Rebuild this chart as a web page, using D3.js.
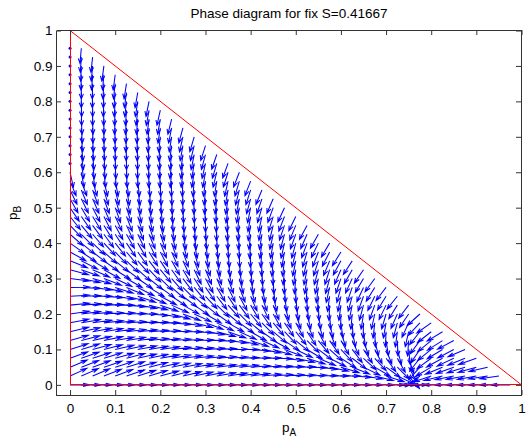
<!DOCTYPE html>
<html>
<head>
<meta charset="utf-8">
<script src="https://cdn.jsdelivr.net/npm/d3@7"></script>
<style>
  body { margin: 0; background: #fff; }
  text { font-family: "Liberation Sans", Arial, Helvetica, sans-serif; }
</style>
</head>
<body>
<svg id="chart" width="526" height="443"></svg>
<script>
// grid of the phase plane, step 0.025
var pAValues = [0,0.025,0.05,0.075,0.1,0.125,0.15,0.175,0.2,0.225,0.25,0.275,0.3,0.325,0.35,0.375,0.4,0.425,0.45,0.475,
                0.5,0.525,0.55,0.575,0.6,0.625,0.65,0.675,0.7,0.725,0.75,0.775,0.8,0.825,0.85,0.875,0.9,0.925,0.95,0.975];
var pBValues = [0,0.025,0.05,0.075,0.1,0.125,0.15,0.175,0.2,0.225,0.25,0.275,0.3,0.325,0.35,0.375,0.4,0.425,0.45,0.475,
                0.5,0.525,0.55,0.575,0.6,0.625,0.65,0.675,0.7,0.725,0.75,0.775,0.8,0.825,0.85,0.875,0.9,0.925,0.95];

// flow direction (degrees) at each grid point, one row per pB value, entries follow pAValues
// null = zero vector (drawn as a dot)
var flowAngle = [
  [0,0,0,0,0,0,0,0,0,0,0,0,0,0,0,0,0,0,0,0,0,0,0,0,0,0,0,0,0,0,0,180,180,180,180,180,180,180,180,180],
  [30,29,28,26,25,23,22,21,19,18,16,15,14,12,11,10,9,7,6,5,4,3,2,1,0,-5,-11,-17,-22,-31,-56,-136,-157,-163,-166,-167,-167,-169,-170],
  [28,26,25,23,22,21,19,18,16,15,13,12,11,9,8,7,5,4,3,2,1,-2,-8,-15,-21,-27,-32,-37,-43,-52,-66,-125,-143,-152,-155,-158,-160,-163],
  [25,24,22,21,19,18,16,15,13,12,10,9,7,6,5,3,2,1,-2,-9,-15,-22,-28,-33,-39,-44,-49,-54,-60,-66,-75,-122,-137,-145,-149,-153,-156],
  [22,21,19,18,16,15,13,12,10,8,7,6,4,3,1,0,-6,-13,-20,-26,-32,-38,-44,-49,-54,-59,-63,-68,-73,-78,-85,-118,-134,-142,-146,-151],
  [20,18,16,15,13,12,10,8,7,5,4,2,1,-3,-9,-16,-23,-29,-35,-41,-46,-52,-57,-61,-66,-70,-75,-79,-83,-88,-93,-120,-134,-141,-146],
  [17,15,13,12,10,8,7,5,4,2,0,-4,-11,-18,-24,-30,-36,-42,-47,-53,-58,-63,-68,-72,-76,-80,-84,-88,-92,-96,-100,-122,-135,-142],
  [14,12,10,8,7,5,3,2,0,-6,-12,-18,-25,-31,-36,-42,-47,-52,-57,-62,-67,-72,-76,-80,-84,-87,-91,-95,-98,-102,-110,-126,-138],
  [10,9,7,5,4,2,0,-6,-12,-19,-25,-30,-36,-42,-47,-52,-57,-61,-66,-70,-75,-79,-83,-87,-91,-94,-97,-100,-103,-109,-118,-131],
  [7,5,4,2,0,-6,-12,-18,-24,-30,-35,-41,-46,-51,-55,-60,-65,-69,-73,-77,-81,-85,-88,-92,-96,-99,-102,-106,-111,-116,-121],
  [4,2,0,-5,-11,-17,-23,-29,-34,-40,-44,-49,-54,-59,-63,-67,-71,-75,-79,-83,-86,-90,-93,-96,-99,-102,-106,-111,-116,-122],
  [1,-4,-10,-17,-22,-28,-33,-38,-43,-48,-52,-57,-61,-65,-69,-73,-77,-80,-84,-87,-90,-93,-96,-100,-102,-105,-110,-116,-121],
  [-9,-15,-20,-26,-31,-36,-41,-46,-51,-55,-59,-63,-67,-71,-74,-78,-81,-85,-88,-91,-94,-97,-99,-102,-105,-110,-115,-120],
  [-19,-24,-29,-35,-39,-44,-49,-53,-57,-61,-65,-69,-72,-76,-79,-82,-85,-88,-91,-94,-97,-99,-102,-104,-109,-114,-118],
  [-27,-33,-37,-42,-46,-51,-55,-59,-63,-66,-70,-73,-76,-80,-83,-86,-88,-91,-94,-96,-99,-101,-104,-108,-113,-117],
  [-35,-40,-44,-49,-53,-57,-61,-64,-68,-71,-74,-77,-80,-83,-86,-89,-91,-94,-96,-98,-101,-103,-107,-112,-116],
  [-42,-46,-50,-54,-58,-62,-65,-69,-72,-75,-78,-81,-83,-86,-89,-91,-93,-96,-98,-100,-102,-106,-111,-115],
  [-48,-52,-56,-60,-63,-66,-69,-72,-75,-78,-81,-84,-86,-89,-91,-93,-95,-97,-100,-102,-106,-109,-114],
  [-53,-57,-60,-64,-67,-70,-73,-76,-78,-81,-84,-86,-88,-91,-93,-95,-97,-99,-101,-105,-108,-113],
  [-58,-61,-64,-68,-70,-73,-76,-79,-81,-84,-86,-88,-90,-92,-94,-96,-98,-100,-104,-107,-111],
  [-62,-65,-68,-71,-74,-76,-79,-81,-83,-86,-88,-90,-92,-94,-96,-98,-99,-103,-106,-110],
  [-66,-69,-71,-74,-76,-79,-81,-83,-86,-88,-90,-91,-93,-95,-97,-99,-102,-105,-109],
  [-69,-72,-74,-77,-79,-81,-83,-85,-87,-89,-91,-93,-94,-96,-98,-101,-104,-108],
  [-72,-74,-77,-79,-81,-83,-85,-87,-89,-91,-92,-94,-96,-97,-100,-103,-107],
  [-80,-82,-83,-85,-87,-88,-90,-91,-92,-94,-95,-97,-98,-101,-104,-107],
  [null,-83,-85,-86,-88,-89,-91,-92,-93,-95,-96,-97,-100,-103,-106],
  [null,-84,-86,-87,-89,-90,-91,-93,-94,-95,-96,-99,-102,-105],
  [null,-85,-87,-88,-90,-91,-92,-93,-95,-96,-98,-101,-104],
  [null,-86,-88,-89,-90,-92,-93,-94,-95,-97,-100,-103],
  [null,-87,-89,-90,-91,-92,-93,-94,-97,-99,-102],
  [null,-88,-89,-90,-92,-93,-94,-96,-98,-101],
  [null,-89,-90,-91,-92,-93,-95,-98,-100],
  [null,-89,-90,-92,-93,-95,-97,-99],
  [null,-90,-91,-92,-94,-96,-98],
  [null,-90,-91,-93,-95,-97],
  [null,-91,-93,-94,-96],
  [null,-92,-94,-96],
  [null,-93,-95],
  [null,-94]
];

// simplex border: pA axis, pB axis, pA + pB = 1
var borderA = [0, 0, 1, 0];
var borderB = [0, 1, 0, 0];

var xTickValues = [0,0.1,0.2,0.3,0.4,0.5,0.6,0.7,0.8,0.9,1];
var xTickLabels = ["0","0.1","0.2","0.3","0.4","0.5","0.6","0.7","0.8","0.9","1"];
var yTickValues = [0,0.1,0.2,0.3,0.4,0.5,0.6,0.7,0.8,0.9,1];
var yTickLabels = ["0","0.1","0.2","0.3","0.4","0.5","0.6","0.7","0.8","0.9","1"];

var titleText = "Phase diagram for fix S=0.41667";

var font = "'Liberation Sans', Arial, Helvetica, sans-serif";
var fontSize = 13.5;

var svg = d3.select("#chart");
svg.append("rect").attr("width", 526).attr("height", 443).attr("fill", "#fff");

var x = d3.scaleLinear().domain([-0.03, 1]).range([56.5, 521.5]);
var y = d3.scaleLinear().domain([-0.03, 1]).range([395.5, 30.5]);

// quiver arrows (unit directions, autoscaled length in data units)
var arrowLen = 0.043;
var headLen = 0.33, headWid = 0.33;

var pts = [];
flowAngle.forEach(function(row, k) {
  row.forEach(function(ang, i) {
    pts.push({pA: pAValues[i], pB: pBValues[k], ang: ang});
  });
});

function arrowPath(d) {
  var t = d.ang * Math.PI / 180;
  var u = arrowLen * Math.cos(t), v = arrowLen * Math.sin(t);
  var tx = d.pA + u, ty = d.pB + v;
  var b1x = tx - headLen * (u + headWid * v), b1y = ty - headLen * (v - headWid * u);
  var b2x = tx - headLen * (u - headWid * v), b2y = ty - headLen * (v + headWid * u);
  return "M" + x(d.pA) + "," + y(d.pB) + "L" + x(tx) + "," + y(ty)
       + "M" + x(b1x) + "," + y(b1y) + "L" + x(tx) + "," + y(ty) + "L" + x(b2x) + "," + y(b2y);
}

svg.append("g")
  .selectAll("path")
  .data(pts.filter(function(d) { return d.ang !== null; }))
  .enter()
  .append("path")
    .attr("d", arrowPath)
    .attr("fill", "none")
    .attr("stroke", "#0000ff")
    .attr("stroke-width", 1.05);

svg.append("g")
  .selectAll("circle")
  .data(pts.filter(function(d) { return d.ang === null; }))
  .enter()
  .append("circle")
    .attr("cx", function(d) { return x(d.pA); })
    .attr("cy", function(d) { return y(d.pB); })
    .attr("r", 1.5)
    .attr("fill", "#0000ff");

// red border of the simplex
var gRed = svg.append("g");
for (var s = 0; s < 3; s++) {
  gRed.append("line")
    .attr("x1", x(borderA[s])).attr("y1", y(borderB[s]))
    .attr("x2", x(borderA[s + 1])).attr("y2", y(borderB[s + 1]))
    .attr("stroke", "#ff0000")
    .attr("stroke-width", 1)
    .attr("shape-rendering", s === 1 ? "auto" : "crispEdges");
}

// axes box with inward ticks
var axisColor = "#333";
function styleAxis(g) {
  g.attr("color", axisColor);
  g.selectAll("text").attr("font-size", fontSize).attr("font-family", font).attr("fill", "#000");
}

svg.append("g").attr("transform", "translate(0,395)")
  .call(d3.axisBottom(x).tickValues(xTickValues)
    .tickFormat(function(d, i) { return xTickLabels[i]; })
    .tickSize(-5).tickSizeOuter(0).tickPadding(8))
  .call(styleAxis);

svg.append("g").attr("transform", "translate(0,30)")
  .call(d3.axisTop(x).tickValues(xTickValues)
    .tickFormat(function() { return ""; })
    .tickSize(-5).tickSizeOuter(0))
  .call(styleAxis);

svg.append("g").attr("transform", "translate(56,0)")
  .call(d3.axisLeft(y).tickValues(yTickValues)
    .tickFormat(function(d, i) { return yTickLabels[i]; })
    .tickSize(-5).tickSizeOuter(0).tickPadding(3.5))
  .call(styleAxis);

svg.append("g").attr("transform", "translate(521,0)")
  .call(d3.axisRight(y).tickValues(yTickValues)
    .tickFormat(function() { return ""; })
    .tickSize(-5).tickSizeOuter(0))
  .call(styleAxis);

// title and axis labels
svg.append("text")
  .attr("x", 289).attr("y", 18)
  .attr("text-anchor", "middle")
  .attr("font-size", fontSize)
  .text(titleText);

var xl = svg.append("text")
  .attr("x", 289).attr("y", 432)
  .attr("text-anchor", "middle")
  .attr("font-size", fontSize);
xl.append("tspan").text("p");
xl.append("tspan").attr("dy", 4).attr("font-size", 10).text("A");

var yl = svg.append("text")
  .attr("transform", "translate(17,213) rotate(-90)")
  .attr("text-anchor", "middle")
  .attr("font-size", fontSize);
yl.append("tspan").text("p");
yl.append("tspan").attr("dy", 4).attr("font-size", 10).text("B");
</script>
</body>
</html>
